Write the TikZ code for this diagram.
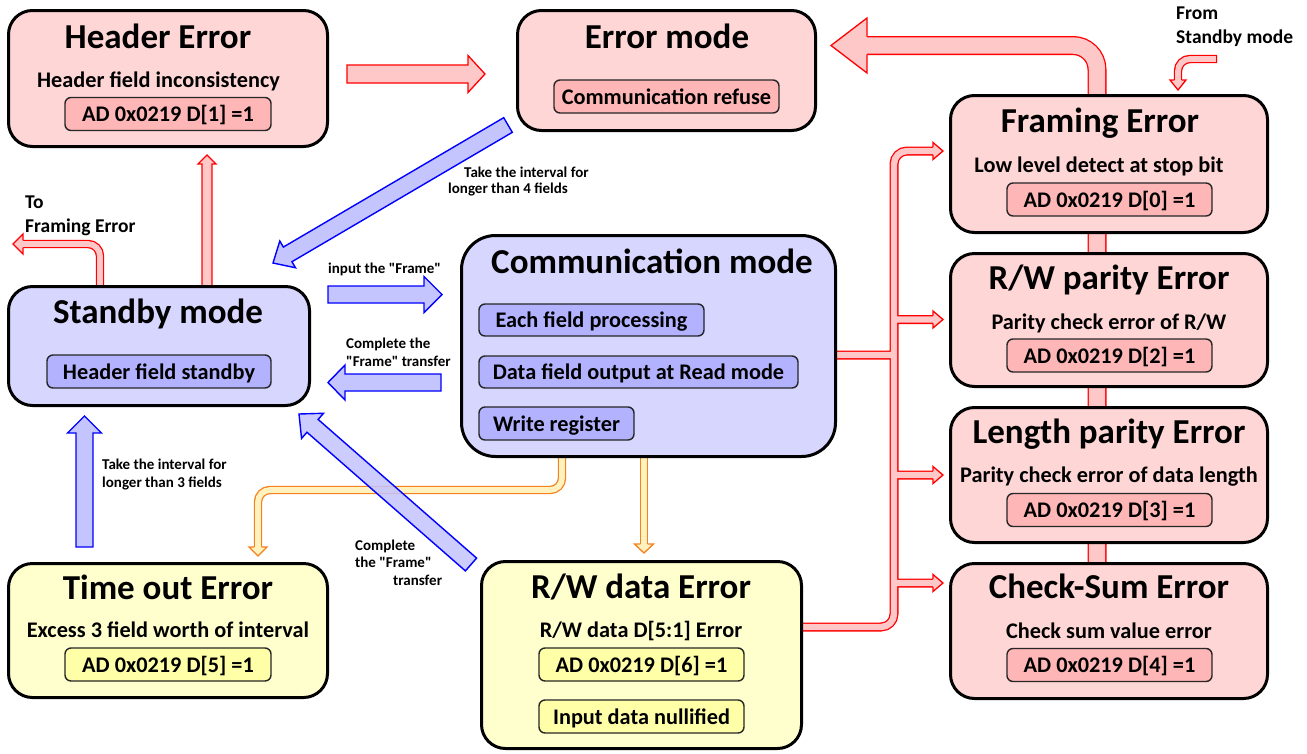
\documentclass[tikz,border=0pt]{standalone}
\usepackage{fontspec}
\setmainfont{Carlito}[Ligatures=TeXOff]
\usetikzlibrary{calc}
\definecolor{pkF}{RGB}{255,214,214}
\definecolor{pkI}{RGB}{255,182,182}
\definecolor{blF}{RGB}{214,214,255}
\definecolor{blI}{RGB}{178,178,255}
\definecolor{ylF}{RGB}{255,255,206}
\definecolor{ylI}{RGB}{255,255,168}
\definecolor{arR}{RGB}{255,0,0}
\definecolor{arRF}{RGB}{255,200,200}
\definecolor{arB}{RGB}{0,0,255}
\definecolor{arBF}{RGB}{196,196,255}
\definecolor{arO}{RGB}{245,130,30}
\definecolor{arOF}{RGB}{255,242,190}
\newcommand{\dgttl}{\fontsize{35}{42}\selectfont\bfseries}
\newcommand{\dgsub}{\fontsize{22.3}{26}\selectfont\bfseries}
\newcommand{\dglbl}{\fontsize{15}{17.5}\selectfont\bfseries}
\newcommand{\dgside}{\fontsize{19.5}{24}\selectfont\bfseries}
% straight block arrow between two named coordinates
\newcommand{\blkarrow}[6]{%
  \path ($(#3)!#6pt!(#2)$) coordinate (ba-h);
  \draw[#1] ($(#2)!#4pt!90:(#3)$) -- ($(ba-h)!#4pt!90:(#3)$) -- ($(ba-h)!#5pt!90:(#3)$) -- (#3)
    -- ($(ba-h)!#5pt!-90:(#3)$) -- ($(ba-h)!#4pt!-90:(#3)$) -- ($(#2)!#4pt!-90:(#3)$) -- cycle;
}
% head for a hollow tube: fill, line colour, base, tip, half shaft, half head
\newcommand{\tubehead}[6]{%
  \fill[#1] ($(#3)!#5pt!90:(#4)$) -- ($(#3)!#6pt!90:(#4)$) -- (#4) -- ($(#3)!#6pt!-90:(#4)$) -- ($(#3)!#5pt!-90:(#4)$) -- cycle;
  \draw[#2, line width=1.3pt, line join=miter] ($(#3)!#5pt!90:(#4)$) -- ($(#3)!#6pt!90:(#4)$) -- (#4) -- ($(#3)!#6pt!-90:(#4)$) -- ($(#3)!#5pt!-90:(#4)$);
}
\tikzset{
  outerbox/.style={draw=black, line width=3pt, rounded corners=24pt, inner sep=0pt, outer sep=0pt},
  innerbox/.style={draw=black!85, line width=1.4pt, rounded corners=6pt, inner sep=0pt, text height=15.5pt, text depth=0pt, font=\dgsub},
  ttl/.style={font=\dgttl, anchor=base, inner sep=0pt},
  sub/.style={font=\dgsub, anchor=base, inner sep=0pt},
  lbl/.style={font=\dglbl, anchor=base west, inner sep=0pt, align=left},
  side/.style={font=\dgside, anchor=base west, inner sep=0pt, align=left},
  redblk/.style={draw=arR, fill=arRF, line width=1.3pt, line join=miter},
  blueblk/.style={draw=arB, fill=arBF, line width=1.4pt, line join=miter},
  redtube/.style={draw=arR, line width=1.3pt, double=arRF, double distance=5.8pt, rounded corners=12pt},
  bustube/.style={draw=arR, line width=1.3pt, double=arRF, double distance=6.4pt, rounded corners=13pt},
  bigtube/.style={draw=arR, line width=1.3pt, double=arRF, double distance=16.4pt, rounded corners=24pt},
  orgtube/.style={draw=arO, line width=1.3pt, double=arOF, double distance=5.8pt, rounded corners=12pt},
}
\begin{document}
\begin{tikzpicture}[x=1pt,y=-1pt]
\fill[white] (0,0) rectangle (1307,753);
\useasboundingbox (0,0) rectangle (1307,753);

% ---------- coordinates for connector ends ----------
\coordinate (big-s) at (1097,600);
\coordinate (big-c) at (1097,45.5);
\coordinate (big-b) at (867,45.5);
\coordinate (big-t) at (831,45.5);

\coordinate (bus-cm) at (820,355);
\coordinate (bus-cmj) at (894,355);
\coordinate (bus-rw) at (790,627);
\coordinate (bus-bot) at (894,627);
\coordinate (bus-top) at (894,151);
\coordinate (bus-j2) at (894,319.5);
\coordinate (bus-j3) at (894,475);
\coordinate (bus-j4) at (894,583);
\coordinate (h1b) at (933,151);   \coordinate (h1t) at (943,151);
\coordinate (h2b) at (933,319.5); \coordinate (h2t) at (943,319.5);
\coordinate (h3b) at (933,475);   \coordinate (h3t) at (943,475);
\coordinate (h4b) at (933,583);   \coordinate (h4t) at (943,583);

\coordinate (tf-s) at (100,295);
\coordinate (tf-c) at (100,244);
\coordinate (tf-b) at (23,244);
\coordinate (tf-t) at (13,244);

\coordinate (fs-s) at (1217,59);
\coordinate (fs-c) at (1178,59);
\coordinate (fs-b) at (1178,80);
\coordinate (fs-t) at (1178,90);

\coordinate (o1-s) at (562,440);
\coordinate (o1-c1) at (562,490);
\coordinate (o1-c2) at (258,490);
\coordinate (o1-b) at (258,547);
\coordinate (o1-t) at (258,556);
\coordinate (o2-s) at (644,440);
\coordinate (o2-b) at (644,544);
\coordinate (o2-t) at (644,553);

\coordinate (a1s) at (347,74);    \coordinate (a1t) at (485,74);
\coordinate (a2s) at (207,295);   \coordinate (a2t) at (207,155);
\coordinate (b1s) at (508,125);   \coordinate (b1t) at (273,263);
\coordinate (b2s) at (328,294.5); \coordinate (b2t) at (442,294.5);
\coordinate (b3s) at (441,382.5); \coordinate (b3t) at (328,382.5);
\coordinate (b4s) at (84.5,547);  \coordinate (b4t) at (84.5,416);
\coordinate (b5s) at (471,564.5); \coordinate (b5t) at (299,414);

% ---------- connectors ----------
\draw[bigtube] (big-s) -- (big-c) -- (big-b);
\tubehead{arRF}{arR}{big-b}{big-t}{8.85}{27.5}

\draw[bustube] (bus-cm) -- (bus-cmj)
  (bus-rw) -- (bus-bot) -- (bus-top) -- (h1b)
  (bus-j2) -- (h2b)
  (bus-j3) -- (h3b)
  (bus-j4) -- (h4b);
\tubehead{arRF}{arR}{h1b}{h1t}{3.85}{8.5}
\tubehead{arRF}{arR}{h2b}{h2t}{3.85}{8.5}
\tubehead{arRF}{arR}{h3b}{h3t}{3.85}{8.5}
\tubehead{arRF}{arR}{h4b}{h4t}{3.85}{8.5}

\draw[redtube] (tf-s) -- (tf-c) -- (tf-b);
\tubehead{arRF}{arR}{tf-b}{tf-t}{3.55}{10}

\draw[redtube] (fs-s) -- (fs-c) -- (fs-b);
\draw[arR, line width=1.3pt] ($(fs-s)+(-0.65,-4.2)$) -- ($(fs-s)+(-0.65,4.2)$);
\tubehead{arRF}{arR}{fs-b}{fs-t}{3.55}{8}

\draw[orgtube] (o1-s) -- (o1-c1) -- (o1-c2) -- (o1-b);
\tubehead{arOF}{arO}{o1-b}{o1-t}{3.55}{9}
\draw[orgtube] (o2-s) -- (o2-b);
\tubehead{arOF}{arO}{o2-b}{o2-t}{3.55}{9.5}

\blkarrow{redblk}{a1s}{a1t}{9}{18.5}{17}
\blkarrow{redblk}{a2s}{a2t}{5}{9}{9}
\blkarrow{blueblk}{b1s}{b1t}{8.5}{15.5}{17}
\blkarrow{blueblk}{b2s}{b2t}{8.5}{18}{18}
\blkarrow{blueblk}{b3s}{b3t}{8.5}{17.5}{17}
\blkarrow{blueblk}{b4s}{b4t}{8.5}{17}{17}
\blkarrow{blueblk, fill opacity=0.85}{b5s}{b5t}{8.5}{16.7}{18}

% ---------- boxes ----------
\node[outerbox, fill=pkF, minimum width=319, minimum height=136] (he) at (168,78.5) {};
\node[ttl] (he-t) at (158,48) {Header Error};
\node[sub] (he-s) at (158.5,87) {Header field inconsistency};
\node[innerbox, fill=pkI, minimum width=206, minimum height=33] (he-r) at (168,114) {AD 0x0219 D[1] =1};

\node[outerbox, fill=pkF, minimum width=298, minimum height=120] (em) at (666.5,70.5) {};
\node[ttl] (em-t) at (667,48) {Error mode};
\node[innerbox, fill=pkI, minimum width=225, minimum height=33] (em-r) at (666.5,96.5) {Communication refuse};

\node[outerbox, fill=pkF, minimum width=317, minimum height=137] (fe) at (1109,164) {};
\node[ttl] (fe-t) at (1100,132) {Framing Error};
\node[sub] (fe-s) at (1099,172) {Low level detect at stop bit};
\node[innerbox, fill=pkI, minimum width=205, minimum height=33] (fe-r) at (1109.5,199.5) {AD 0x0219 D[0] =1};

\node[outerbox, fill=pkF, minimum width=317, minimum height=133] (rp) at (1109,320) {};
\node[ttl] (rp-t) at (1109,289) {R/W parity Error};
\node[sub] (rp-s) at (1109,329) {Parity check error of R/W};
\node[innerbox, fill=pkI, minimum width=205, minimum height=33] (rp-r) at (1109.5,355.5) {AD 0x0219 D[2] =1};

\node[outerbox, fill=pkF, minimum width=317, minimum height=135] (lp) at (1109,475) {};
\node[ttl] (lp-t) at (1109,443) {Length parity Error};
\node[sub] (lp-s) at (1109,482) {Parity check error of data length};
\node[innerbox, fill=pkI, minimum width=205, minimum height=33] (lp-r) at (1109.5,510) {AD 0x0219 D[3] =1};

\node[outerbox, fill=pkF, minimum width=317, minimum height=135] (cs) at (1109,631) {};
\node[ttl] (cs-t) at (1109,598) {Check-Sum Error};
\node[sub] (cs-s) at (1109,638) {Check sum value error};
\node[innerbox, fill=pkI, minimum width=205, minimum height=33] (cs-r) at (1109.5,665) {AD 0x0219 D[4] =1};

\node[outerbox, fill=blF, minimum width=301, minimum height=119] (sb) at (159,346) {};
\node[ttl] (sb-t) at (158,323) {Standby mode};
\node[innerbox, fill=blI, minimum width=224, minimum height=33] (sb-r) at (159,371.5) {Header field standby};

\node[outerbox, fill=blF, rounded corners=34pt, minimum width=374, minimum height=221] (cm) at (648.5,346) {};
\node[ttl] (cm-t) at (652,273) {Communication mode};
\node[innerbox, fill=blI, minimum width=225, minimum height=32] (cm-r1) at (591.5,320) {Each field processing};
\node[innerbox, fill=blI, minimum width=319, minimum height=32] (cm-r2) at (638.5,372) {Data field output at Read mode};
\node[innerbox, fill=blI, minimum width=155, minimum height=33] (cm-r3) at (556.5,423.5) {Write register};

\node[outerbox, fill=ylF, minimum width=319, minimum height=134] (to) at (168,630.5) {};
\node[ttl] (to-t) at (168,599) {Time out Error};
\node[sub] (to-s) at (168,637) {Excess 3 field worth of interval};
\node[innerbox, fill=ylI, minimum width=206, minimum height=33] (to-r) at (168,664.5) {AD 0x0219 D[5] =1};

\node[outerbox, fill=ylF, minimum width=320, minimum height=187] (rw) at (641.5,655) {};
\node[ttl] (rw-t) at (641,598) {R/W data Error};
\node[sub] (rw-s) at (641,637) {R/W data D[5:1] Error};
\node[innerbox, fill=ylI, minimum width=205, minimum height=33] (rw-r1) at (641.5,664.5) {AD 0x0219 D[6] =1};
\node[innerbox, fill=ylI, minimum width=205, minimum height=33] (rw-r2) at (641.5,716.5) {Input data nullified};

% ---------- labels (base = last line) ----------
\node[lbl] (l4a) at (464,177) {Take the interval for};
\node[lbl] (l4b) at (448,193) {longer than 4 fields};
\node[lbl] (lin) at (328,273) {input the "Frame"};
\node[lbl] (lct) at (346,366) {Complete the\\"Frame" transfer};
\node[lbl] (l3) at (102,487) {Take the interval for\\longer than 3 fields};
\node[lbl] (lct2) at (355,585) {Complete\\the "Frame"\\\hspace*{38pt}transfer};
\node[side] (ltf) at (25,232) {To\\Framing Error};
\node[side] (lfs) at (1176,43) {From\\Standby mode};
\end{tikzpicture}
\end{document}
